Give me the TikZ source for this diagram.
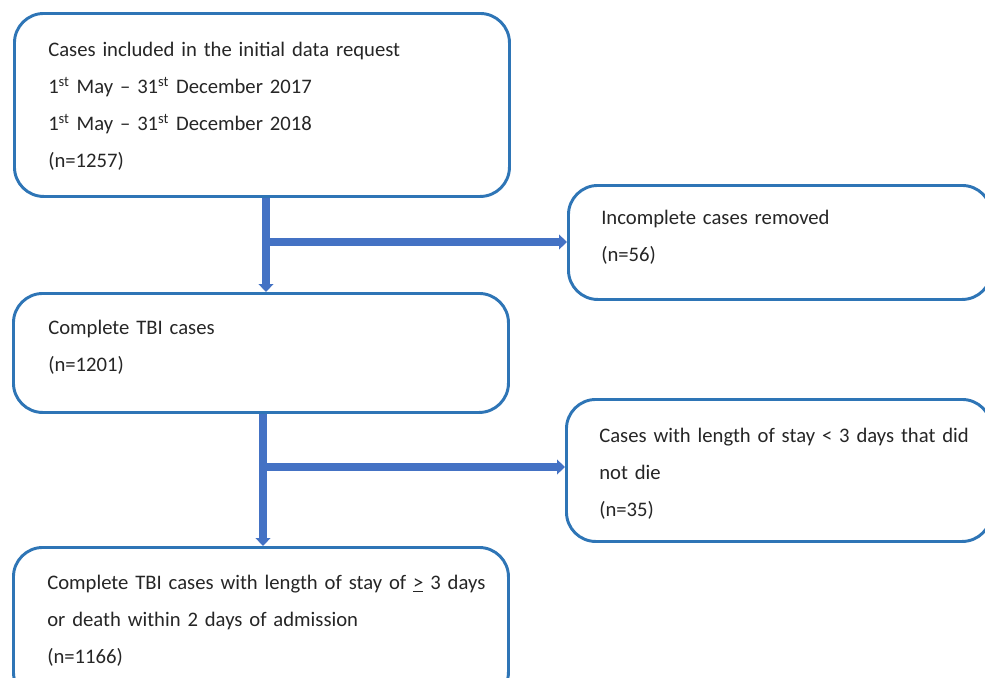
\documentclass[tikz,border=0pt]{standalone}
\usepackage{fontspec}
\setmainfont{Carlito}
\usetikzlibrary{arrows.meta}
\definecolor{boxblue}{RGB}{46,117,182}
\definecolor{arrblue}{RGB}{68,114,196}
\definecolor{txt}{RGB}{38,38,38}
\begin{document}
\begin{tikzpicture}[x=0.75pt,y=-0.75pt,
  flowbox/.style={draw=boxblue, line width=2.2pt, rounded corners=22pt, fill=white, inner sep=0pt, anchor=north west},
  boxtext/.style={anchor=base west, inner sep=0pt, text width=340pt, align=left, font=\fontsize{15.5pt}{27.75pt}\selectfont, text=txt},
  flowarrow/.style={draw=arrblue, line width=5.4pt, -{Triangle[length=6pt,width=11pt]}}]
\useasboundingbox (0,0) rectangle (985,678);
\fill[white] (0,0) rectangle (985,678);
% boxes
\node[flowbox, minimum width=371.25pt, minimum height=137.25pt] (b1) at (13,12) {};
\node[flowbox, minimum width=317.25pt, minimum height=85.5pt] (b2) at (567,184) {};
\node[flowbox, minimum width=371.25pt, minimum height=89.25pt] (b3) at (12,292) {};
\node[flowbox, minimum width=318.75pt, minimum height=106.5pt] (b4) at (565,398) {};
\node[flowbox, minimum width=371.25pt, minimum height=115.5pt] (b5) at (12,546) {};
% texts
\node[boxtext] (t1) at (48,56) {Cases included in the initial data request\\
1\textsuperscript{st} May -- 31\textsuperscript{st} December 2017\\
1\textsuperscript{st} May -- 31\textsuperscript{st} December 2018\\
(n=1257)};
\node[boxtext] (t2) at (601,224) {Incomplete cases removed\\(n=56)};
\node[boxtext] (t3) at (48,334) {Complete TBI cases\\(n=1201)};
\node[boxtext] (t4) at (599,442) {Cases with length of stay < 3 days that did\\not die\\(n=35)};
\node[boxtext] (t5) at (47,589) {Complete TBI cases with length of stay of \underline{>} 3 days\\or death within 2 days of admission\\(n=1166)};
% connectors
\coordinate (j1) at (266,242);
\coordinate (j2) at (263,467);
\draw[flowarrow] (b1.south -| j1) -- (b3.north -| j1);
\draw[flowarrow] (j1) -- (b2.west |- j1);
\draw[flowarrow] (b3.south -| j2) -- (b5.north -| j2);
\draw[flowarrow] (j2) -- (b4.west |- j2);
\end{tikzpicture}
\end{document}
